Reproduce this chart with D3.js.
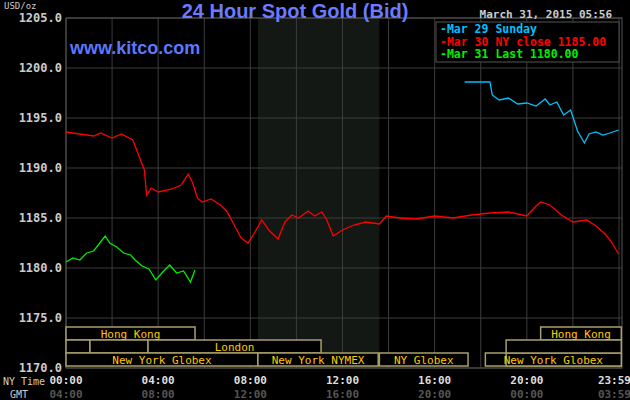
<!DOCTYPE html>
<html><head><meta charset="utf-8">
<script src="https://cdn.jsdelivr.net/npm/d3@7"></script>
<style>body{margin:0;background:#000}text{font-family:"DejaVu Sans Mono",monospace}</style>
</head><body><div id="chart"></div>
<script>
// hours since 00:00 NY, price
const redHours = [0,0.6,1.2,1.5,2.0,2.4,2.9,3.2,3.4,3.5,3.7,4.0,4.6,5.0,5.3,5.5,5.7,5.9,6.3,6.7,7.0,7.3,7.6,7.9,8.2,8.5,8.8,9.2,9.5,9.8,10.1,10.5,10.8,11.1,11.3,11.6,12.0,12.5,13.0,13.6,13.9,14.5,15.2,16.0,16.8,17.6,18.4,19.2,20.0,20.4,20.6,21.0,21.5,22.0,22.6,23.0,23.4,23.7,23.98]
const redVals  = [1193.6,1193.4,1193.2,1193.5,1193.0,1193.4,1192.8,1191.0,1189.8,1187.3,1188.0,1187.6,1187.9,1188.3,1189.4,1188.5,1187.0,1186.6,1186.9,1186.3,1185.6,1184.3,1183.0,1182.5,1183.6,1184.8,1183.8,1182.9,1184.6,1185.3,1185.0,1185.7,1185.2,1185.6,1184.9,1183.2,1183.8,1184.3,1184.6,1184.4,1185.2,1185.0,1184.9,1185.2,1185.0,1185.3,1185.5,1185.6,1185.2,1186.2,1186.6,1186.3,1185.3,1184.6,1184.8,1184.2,1183.4,1182.5,1181.4]
const greenHours = [0,0.3,0.6,0.9,1.2,1.5,1.7,1.9,2.2,2.5,2.8,3.0,3.3,3.6,3.9,4.2,4.5,4.8,5.1,5.4,5.6]
const greenVals  = [1180.6,1181.0,1180.8,1181.5,1181.7,1182.6,1183.2,1182.5,1182.1,1181.5,1181.3,1180.8,1180.2,1179.9,1178.8,1179.6,1180.3,1179.5,1179.7,1178.6,1179.8]
const blueHours = [17.3,17.8,18.4,18.5,18.8,19.2,19.6,20.0,20.4,20.8,21.0,21.3,21.6,21.9,22.2,22.5,22.7,23.0,23.3,23.6,23.98]
const blueVals  = [1198.6,1198.6,1198.6,1197.3,1196.8,1197.0,1196.4,1196.5,1196.2,1196.9,1196.3,1196.6,1195.3,1195.8,1193.7,1192.5,1193.4,1193.6,1193.3,1193.5,1193.8]
const yTicks = [1170,1175,1180,1185,1190,1195,1200,1205]
const xTicks = [0,4,8,12,16,20,24]
const nyLabels = ["00:00","04:00","08:00","12:00","16:00","20:00","23:59"]
const gmtLabels = ["04:00","08:00","12:00","16:00","20:00","00:00","03:59"]
// sessions: row, start hour, end hour, label
const sessRow = [0,0,1,1,1,2,2,2,2,2,1]
const sessStart = [0,20.6,0,1.04,3.56,0,8.33,13.6,18.2,19.1,19.1]
const sessEnd = [5.6,24.1,1.04,3.56,11.07,8.33,13.55,17.45,24.1,24.1,24.1]
const sessLabel = ["Hong Kong","Hong Kong","","","London","New York Globex","New York NYMEX","NY Globex","New York Globex","",""]

const W = 630, H = 400
const svg = d3.select("#chart").append("svg").attr("width", W).attr("height", H)
svg.append("rect").attr("width", W).attr("height", H).attr("fill", "#000")

const x = d3.scaleLinear().domain([0, 24]).range([66, 619])
const y = d3.scaleLinear().domain([1170, 1205]).range([368, 18])

// shaded NYMEX area
svg.append("rect").attr("x", x(8.33)).attr("y", 18).attr("width", x(13.6) - x(8.33)).attr("height", 350).attr("fill", "#141814")

// grid
for (let h = 0; h <= 24; h += 2) {
    svg.append("line").attr("x1", x(h)).attr("x2", x(h)).attr("y1", 18).attr("y2", 368).attr("stroke", "#3c3c3c")
}
yTicks.forEach(v => {
    svg.append("line").attr("x1", 66).attr("x2", 622).attr("y1", y(v)).attr("y2", y(v)).attr("stroke", "#3c3c3c")
    svg.append("text").attr("x", 62).attr("y", y(v) + 4).attr("text-anchor", "end")
    .attr("fill", "#ccc").attr("font-size", 12).attr("font-weight", "bold").text(v.toFixed(1))
})
svg.append("rect").attr("x", 66).attr("y", 18).attr("width", 556).attr("height", 350).attr("fill", "none").attr("stroke", "#555")

// sessions
const rowY = [327, 340, 353]
sessRow.forEach((r, i) => {
    const x0 = x(sessStart[i]), x1 = Math.min(x(sessEnd[i]), 622)
    svg.append("rect").attr("x", x0).attr("y", rowY[r]).attr("width", x1 - x0).attr("height", 13)
    .attr("fill", "#000").attr("stroke", "#a89f6a").attr("stroke-width", 1.5)
})
sessRow.forEach((r, i) => {
    if (!sessLabel[i]) return
    const x0 = x(sessStart[i]), x1 = Math.min(x(sessEnd[i]), 622)
    svg.append("text").attr("x", (x0 + x1) / 2).attr("y", rowY[r] + 11).attr("text-anchor", "middle")
    .attr("fill", "#ffc800").attr("font-size", 11).text(sessLabel[i])
})

// lines
const line = d3.line().x(d => x(d[0])).y(d => y(d[1]))
const series = [[redHours, redVals, "#ff0000"], [greenHours, greenVals, "#00ee00"], [blueHours, blueVals, "#00c0ff"]]
series.forEach(s => {
    svg.append("path").datum(s[0].map((h, i) => [h, s[1][i]]))
    .attr("d", line).attr("fill", "none").attr("stroke", s[2]).attr("stroke-width", 1.3)
})

// x labels
xTicks.forEach((h, i) => {
    svg.append("text").attr("x", x(h)).attr("y", 384).attr("text-anchor", i == 6 ? "end" : "middle")
    .attr("dx", i == 6 ? 12 : 0)
    .attr("fill", "#ddd").attr("font-size", 11).attr("font-weight", "bold").text(nyLabels[i])
    svg.append("text").attr("x", x(h)).attr("y", 398).attr("text-anchor", i == 6 ? "end" : "middle")
    .attr("dx", i == 6 ? 12 : 0)
    .attr("fill", "#555").attr("font-size", 11).attr("font-weight", "bold").text(gmtLabels[i])
})
svg.append("text").attr("x", 3).attr("y", 385).attr("fill", "#ccc").attr("font-size", 10).text("NY Time")
svg.append("text").attr("x", 10).attr("y", 398).attr("fill", "#ccc").attr("font-size", 10).text("GMT")
svg.append("text").attr("x", 4).attr("y", 9).attr("fill", "#ccc").attr("font-size", 9).text("USD/oz")

// titles
svg.append("text").attr("x", 295).attr("y", 18).attr("text-anchor", "middle").attr("fill", "#6a7bff")
.attr("font-size", 20).attr("font-weight", "bold").style("font-family", "'Liberation Sans',Arial").text("24 Hour Spot Gold (Bid)")
svg.append("text").attr("x", 70).attr("y", 54).attr("fill", "#5c78ff").attr("font-weight", "bold")
.attr("font-size", 18).style("font-family", "'Liberation Sans',Arial").text("www.kitco.com")
svg.append("text").attr("x", 612).attr("y", 18).attr("text-anchor", "end").attr("fill", "#ccc")
.attr("font-size", 11).attr("font-weight", "bold").text("March 31, 2015 05:56")

// legend
svg.append("rect").attr("x", 436).attr("y", 22).attr("width", 183).attr("height", 40).attr("fill", "#000").attr("stroke", "#555")
const legText = ["Mar 29 Sunday", "Mar 30 NY close 1185.00", "Mar 31 Last 1180.00"]
const legCol = ["#00c0ff", "#ff0000", "#00ee00"]
legText.forEach((t, i) => {
    svg.append("text").attr("x", 440).attr("y", 33 + i * 12.5).attr("fill", legCol[i])
    .attr("font-size", 11.5).attr("font-weight", "bold").text("-" + t)
})
</script></body></html>
